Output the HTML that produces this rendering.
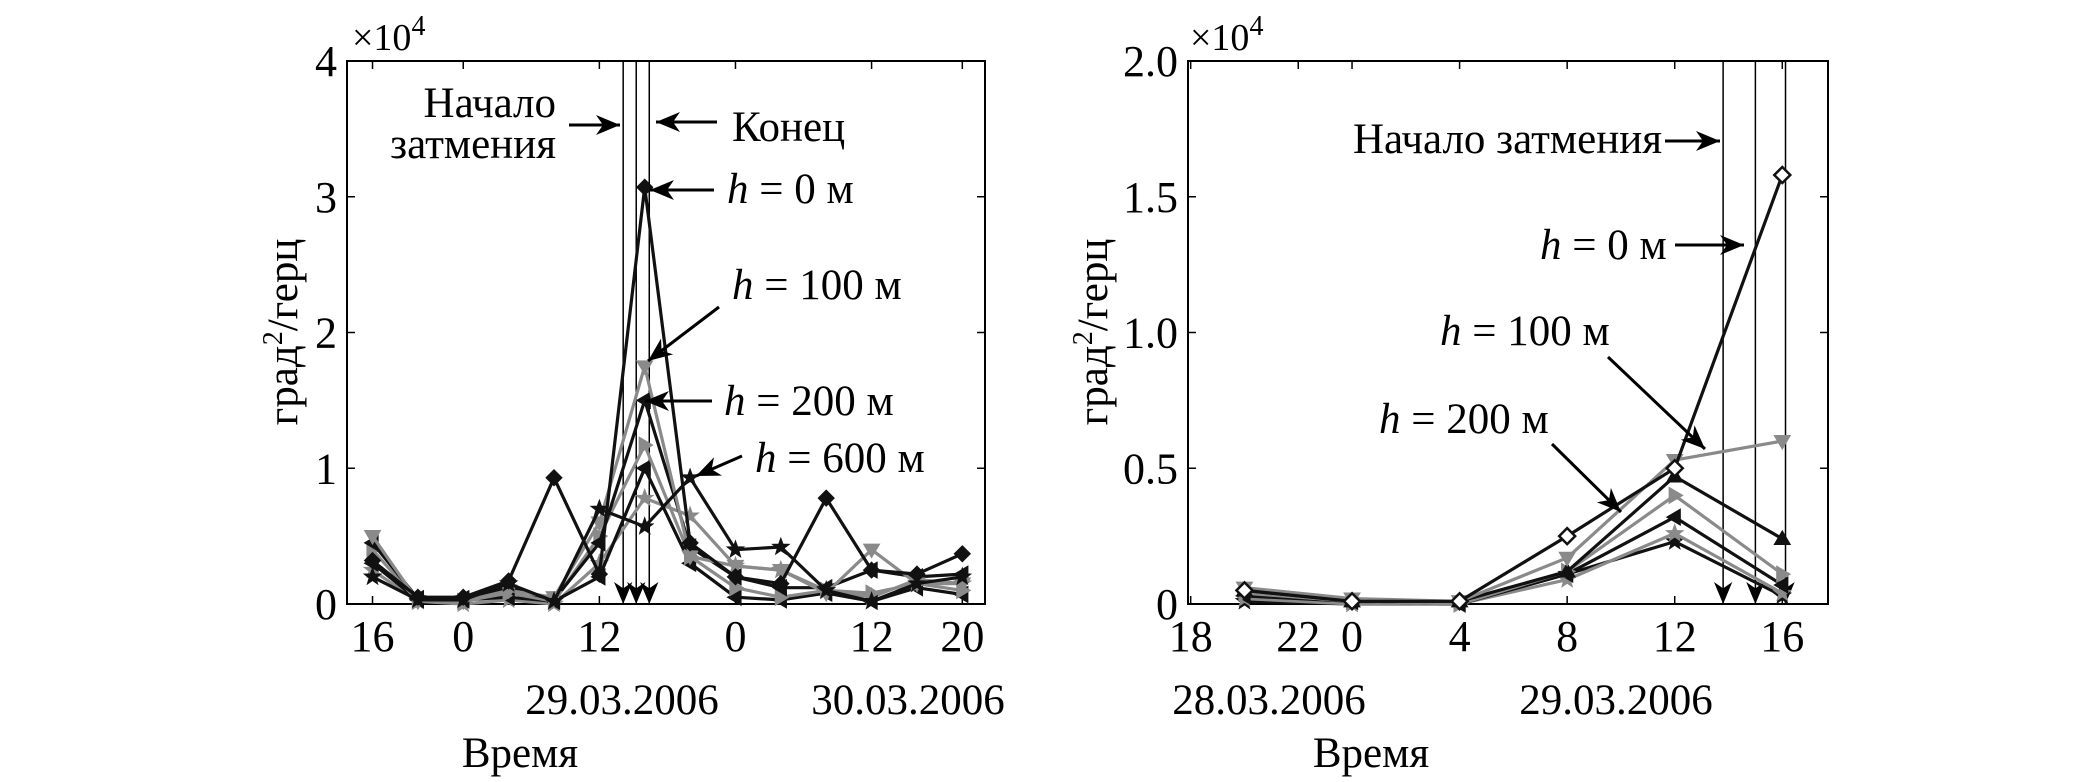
<!DOCTYPE html>
<html><head><meta charset="utf-8">
<style>
html,body{margin:0;padding:0;background:#fff;}
svg{display:block;}
text{font-family:"Liberation Serif","DejaVu Serif",serif;fill:#000;}
</style></head>
<body>
<svg id="fig" width="2079" height="782" viewBox="0 0 2079 782" xmlns="http://www.w3.org/2000/svg" font-family="Liberation Serif, serif">
<defs>
<marker id="ah" viewBox="0 0 24 24" refX="12" refY="24" markerWidth="22" markerHeight="22" orient="0" markerUnits="userSpaceOnUse">
<path d="M2,0 L12,24 L22,0 L12,7 Z" fill="#000"/>
</marker>
</defs>
<g id="left"></g>
<g id="right"></g>
</svg>
<script>
// ---------- LEFT CHART DATA (x in hours from 28.03 00:00, y in 1e4 units) ----------
const leftHours = [16,20,24,28,32,36,40,44,48,52,56,60,64,68];
const leftS1 = [0.32,0.05,0.05,0.17,0.93,0.22,3.07,0.45,0.20,0.15,0.78,0.25,0.22,0.37];
const leftS2 = [0.20,0.03,0.03,0.15,0.02,0.70,0.57,0.93,0.40,0.42,0.10,0.02,0.15,0.20];
const leftS3 = [0.50,0.02,0.02,0.10,0.05,0.60,1.75,0.35,0.28,0.25,0.08,0.40,0.15,0.15];
const leftS4 = [0.45,0.04,0.04,0.12,0.03,0.45,1.50,0.42,0.20,0.12,0.12,0.25,0.20,0.22];
const leftS5 = [0.40,0.02,0.02,0.08,0.02,0.50,1.17,0.35,0.12,0.05,0.10,0.08,0.15,0.10];
const leftS6 = [0.30,0.03,0.03,0.05,0.02,0.20,1.00,0.30,0.05,0.03,0.08,0.02,0.12,0.07];
const leftS7 = [0.25,0.02,0.00,0.03,0.00,0.30,0.78,0.65,0.28,0.25,0.10,0.05,0.18,0.15];
const leftXTickHours = [16,24,36,48,60,68];
const leftXTickLabels = ["16","0","12","0","12","20"];
const leftYTicks = [0,1,2,3,4];
const leftYTickLabels = ["0","1","2","3","4"];
const leftEventHours = [38.1,39.25,40.4];

// ---------- RIGHT CHART DATA ----------
const rightHours = [20,24,28,32,36,40];
const rightS1 = [0.05,0.01,0.01,0.25,0.50,1.58];
const rightS2 = [0.06,0.02,0.01,0.17,0.53,0.60];
const rightS3 = [0.05,0.01,0.01,0.12,0.47,0.24];
const rightS4 = [0.04,0.01,0.00,0.12,0.40,0.11];
const rightS5 = [0.03,0.01,0.00,0.11,0.32,0.07];
const rightS6 = [0.02,0.00,0.00,0.09,0.26,0.04];
const rightS7 = [0.01,0.00,0.00,0.11,0.23,0.03];
const rightXTickHours = [18,22,24,28,32,36,40];
const rightXTickLabels = ["18","22","0","4","8","12","16"];
const rightYTicks = [0,0.5,1.0,1.5,2.0];
const rightYTickLabels = ["0","0.5","1.0","1.5","2.0"];
const rightEventHours = [37.8,39.0,40.12];

const NS = "http://www.w3.org/2000/svg";
function mk(parent, tag, attrs, txt){
  const e = document.createElementNS(NS, tag);
  for (const k in attrs) e.setAttribute(k, attrs[k]);
  if (txt !== undefined) e.textContent = txt;
  parent.appendChild(e);
  return e;
}
function marker(type, x, y){
  const s = 8;
  let d;
  if (type==='diamond') d=`M${x},${y-s} L${x+s},${y} L${x},${y+s} L${x-s},${y} Z`;
  else if (type==='down') d=`M${x-s},${y-s*0.7} L${x+s},${y-s*0.7} L${x},${y+s} Z`;
  else if (type==='up') d=`M${x-s},${y+s*0.7} L${x+s},${y+s*0.7} L${x},${y-s} Z`;
  else if (type==='left') d=`M${x+s*0.7},${y-s} L${x+s*0.7},${y+s} L${x-s},${y} Z`;
  else if (type==='right') d=`M${x-s*0.7},${y-s} L${x-s*0.7},${y+s} L${x+s},${y} Z`;
  else {
    let p=[];
    for(let i=0;i<10;i++){const r=i%2?s*0.45:s*1.1;const a=-Math.PI/2+i*Math.PI/5;p.push((x+r*Math.cos(a)).toFixed(1)+','+(y+r*Math.sin(a)).toFixed(1));}
    d='M'+p.join(' L')+' Z';
  }
  return d;
}

function chart(gid, box, xdom, ydom, hours, series, xt, xtl, yt, ytl, events){
  const g = document.getElementById(gid);
  const X = h => box.x0 + (h - xdom[0])/(xdom[1]-xdom[0])*(box.x1-box.x0);
  const Y = v => box.y1 - (v - ydom[0])/(ydom[1]-ydom[0])*(box.y1-box.y0);
  const frame = mk(g,'rect',{x:box.x0,y:box.y0,width:box.x1-box.x0,height:box.y1-box.y0,fill:'none',stroke:'#000','stroke-width':2});
  
  
  xt.forEach((h,i)=>{
    const x=X(h);
    mk(g,'line',{x1:x,y1:box.y1,x2:x,y2:box.y1-8,stroke:'#000','stroke-width':1.5});
    mk(g,'line',{x1:x,y1:box.y0,x2:x,y2:box.y0+8,stroke:'#000','stroke-width':1.5});
    const t=mk(g,'text',{x:x,y:box.y1+47,'font-size':44,'text-anchor':'middle'},xtl[i]);
    
    
  });
  yt.forEach((v,i)=>{
    const y=Y(v);
    mk(g,'line',{x1:box.x0,y1:y,x2:box.x0+8,y2:y,stroke:'#000','stroke-width':1.5});
    mk(g,'line',{x1:box.x1,y1:y,x2:box.x1-8,y2:y,stroke:'#000','stroke-width':1.5});
    const t=mk(g,'text',{x:box.x0-10,y:y+15,'font-size':44,'text-anchor':'end'},ytl[i]);
    
    
  });
  events.forEach(h=>{
    const x=X(h);
    const l=mk(g,'line',{x1:x,y1:box.y0,x2:x,y2:box.y1,stroke:'#000','stroke-width':1.5,'marker-end':'url(#ah)'});
    
    
  });
  series.forEach((s,si)=>{
    const sg=mk(g,'g',{});
    
    
    const pts=s.vals.map((v,i)=>X(hours[i]).toFixed(1)+','+Y(v).toFixed(1)).join(' ');
    mk(sg,'polyline',{points:pts,fill:'none',stroke:s.color,'stroke-width':3.2,'stroke-linejoin':'round'});
    s.vals.forEach((v,i)=>{
      const p=mk(sg,'path',{d:marker(s.m,X(hours[i]),Y(v)),fill:s.open?'#fff':s.color,stroke:s.color,'stroke-width':s.open?2.5:1});
      
      
    });
  });
}

const K='#111', G='#8a8a8a';
chart('left',{x0:347,x1:985,y0:61,y1:604},[13.75,70],[0,4],leftHours,[
  {vals:leftS7,color:G,m:'star'},
  {vals:leftS6,color:K,m:'left'},
  {vals:leftS5,color:G,m:'right'},
  {vals:leftS4,color:K,m:'left'},
  {vals:leftS3,color:G,m:'down'},
  {vals:leftS2,color:K,m:'star'},
  {vals:leftS1,color:K,m:'diamond'}
],leftXTickHours,leftXTickLabels,leftYTicks,leftYTickLabels,leftEventHours);

chart('right',{x0:1188,x1:1828,y0:61,y1:604},[17.9,41.7],[0,2],rightHours,[
  {vals:rightS7,color:K,m:'star'},
  {vals:rightS6,color:G,m:'star'},
  {vals:rightS5,color:K,m:'left'},
  {vals:rightS4,color:G,m:'right'},
  {vals:rightS3,color:K,m:'up'},
  {vals:rightS2,color:G,m:'down'},
  {vals:rightS1,color:K,m:'diamond',open:true}
],rightXTickHours,rightXTickLabels,rightYTicks,rightYTickLabels,rightEventHours);
</script>
<svg width="2079" height="782" style="position:absolute;left:0;top:0" xmlns="http://www.w3.org/2000/svg" font-family="Liberation Serif, serif">
<defs>
<marker id="ah2" viewBox="0 0 24 24" refX="24" refY="12" markerWidth="24" markerHeight="24" orient="auto" markerUnits="userSpaceOnUse">
<path d="M0,2 L24,12 L0,22 L7,12 Z" fill="#000"/>
</marker>
</defs>
<g stroke="#000" stroke-width="3" fill="none">
<line x1="569" y1="125" x2="620" y2="125" marker-end="url(#ah2)"/>
<line x1="717" y1="122" x2="656" y2="122" marker-end="url(#ah2)"/>
<line x1="714" y1="190" x2="650" y2="190" marker-end="url(#ah2)"/>
<line x1="719" y1="307" x2="648" y2="361" marker-end="url(#ah2)"/>
<line x1="712" y1="401" x2="645" y2="401" marker-end="url(#ah2)"/>
<line x1="742" y1="456" x2="696" y2="476" marker-end="url(#ah2)"/>
<line x1="1665" y1="141" x2="1720" y2="141" marker-end="url(#ah2)"/>
<line x1="1675" y1="245" x2="1744" y2="245" marker-end="url(#ah2)"/>
<line x1="1608" y1="357" x2="1705" y2="449" marker-end="url(#ah2)"/>
<line x1="1552" y1="444" x2="1621" y2="512" marker-end="url(#ah2)"/>
</g>
<g font-size="43">
<text x="352" y="50" font-size="38">×10<tspan dy="-15" font-size="28">4</tspan></text>
<text x="1190" y="50" font-size="38">×10<tspan dy="-15" font-size="28">4</tspan></text>
<text x="556" y="117" text-anchor="end">Начало</text>
<text x="556" y="158" text-anchor="end">затмения</text>
<text x="732" y="141">Конец</text>
<text x="727" y="203"><tspan font-style="italic">h</tspan> = 0 м</text>
<text x="732" y="299"><tspan font-style="italic">h</tspan> = 100 м</text>
<text x="724" y="415"><tspan font-style="italic">h</tspan> = 200 м</text>
<text x="755" y="472"><tspan font-style="italic">h</tspan> = 600 м</text>
<text x="1662" y="153" text-anchor="end">Начало затмения</text>
<text x="1540" y="259"><tspan font-style="italic">h</tspan> = 0 м</text>
<text x="1440" y="345"><tspan font-style="italic">h</tspan> = 100 м</text>
<text x="1379" y="433"><tspan font-style="italic">h</tspan> = 200 м</text>
<text x="622" y="714" text-anchor="middle">29.03.2006</text>
<text x="908" y="714" text-anchor="middle">30.03.2006</text>
<text x="1269" y="714" text-anchor="middle">28.03.2006</text>
<text x="1616" y="714" text-anchor="middle">29.03.2006</text>
<text x="520" y="767" text-anchor="middle">Время</text>
<text x="1371" y="767" text-anchor="middle">Время</text>
<text transform="translate(297,332) rotate(-90)" text-anchor="middle">град<tspan dy="-15" font-size="28">2</tspan><tspan dy="15">/герц</tspan></text>
<text transform="translate(1107,332) rotate(-90)" text-anchor="middle">град<tspan dy="-15" font-size="28">2</tspan><tspan dy="15">/герц</tspan></text>
</g>
</svg>
</body></html>
